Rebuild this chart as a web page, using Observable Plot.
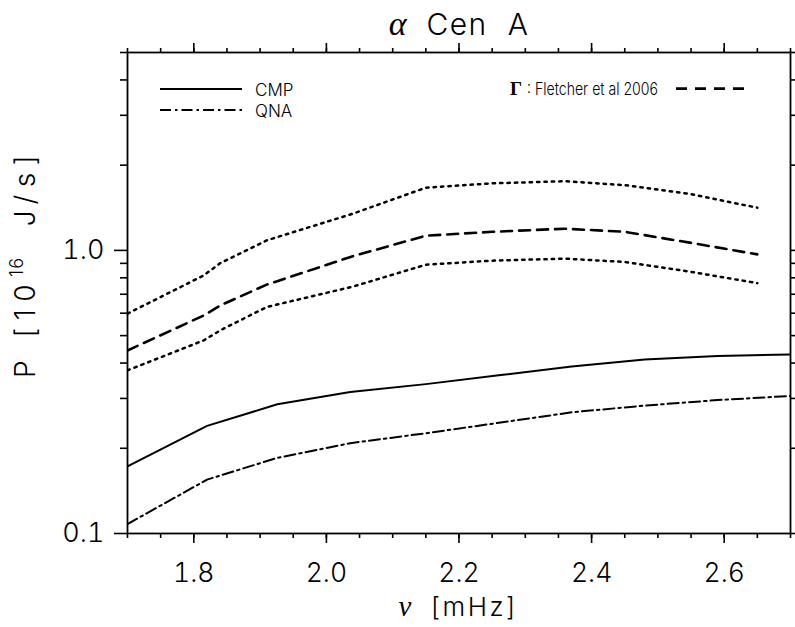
<!DOCTYPE html>
<html><head><meta charset="utf-8">
<script src="https://cdn.jsdelivr.net/npm/d3@7"></script>
<script src="https://cdn.jsdelivr.net/npm/@observablehq/plot@0.6"></script>
<style>
body{margin:0;background:#fff}
#chart{width:795px;height:627px}
#chart svg text{font-family:Inter,Roboto,"DejaVu Sans",sans-serif;font-weight:300;fill:#000}
</style>
</head><body><div id="chart"></div>
<script>
// model frequencies (mHz) and powers (10^16 J/s)
const nuModel = [1.70, 1.82, 1.926, 2.036, 2.15, 2.26, 2.37, 2.48, 2.59, 2.70];
const cmp = [0.1725, 0.240, 0.286, 0.316, 0.337, 0.362, 0.389, 0.412, 0.424, 0.429];
const qna = [0.108, 0.155, 0.185, 0.2085, 0.226, 0.246, 0.268, 0.283, 0.296, 0.306];
// Fletcher et al 2006
const nuObs = [1.70, 1.815, 1.84, 1.91, 2.04, 2.15, 2.25, 2.36, 2.45, 2.55, 2.65];
const gamma = [0.443, 0.589, 0.639, 0.757, 0.954, 1.127, 1.163, 1.193, 1.163, 1.063, 0.968];
const gammaHi = [0.598, 0.816, 0.902, 1.085, 1.348, 1.665, 1.725, 1.755, 1.70, 1.58, 1.415];
const gammaLo = [0.377, 0.481, 0.522, 0.631, 0.745, 0.89, 0.92, 0.935, 0.91, 0.84, 0.766];
// ticks
const xMajor = [1.8, 2.0, 2.2, 2.4, 2.6];
const xMinor = [1.70,1.75,1.80,1.85,1.90,1.95,2.00,2.05,2.10,2.15,2.20,2.25,2.30,2.35,2.40,2.45,2.50,2.55,2.60,2.65,2.70];
const yMajor = [0.1, 1.0];
const yMajorLabels = ["0.1", "1.0"];
const yMinor = [0.2,0.3,0.4,0.5,0.6,0.7,0.8,0.9,2,3,4,5];

const rows = (xs, ys) => xs.map((x, i) => ({x, y: ys[i]}));
const none = () => "";
const ts = 1.6;

const svg = Plot.plot({
  width: 795, height: 627,
  marginLeft: 127, marginRight: 5, marginTop: 52, marginBottom: 94,
  style: {background: "#fff"},
  x: {domain: [1.7, 2.7], label: null},
  y: {type: "log", domain: [0.1, 5], label: null},
  marks: [
    Plot.line(rows(nuModel, cmp), {x: "x", y: "y", stroke: "#000", strokeWidth: 2, clip: true}),
    Plot.line(rows(nuModel, qna), {x: "x", y: "y", stroke: "#000", strokeWidth: 2, strokeDasharray: "11,4,2.5,4", clip: true}),
    Plot.line(rows(nuObs, gamma), {x: "x", y: "y", stroke: "#000", strokeWidth: 2.6, strokeDasharray: "11,7", clip: true}),
    Plot.line(rows(nuObs, gammaHi), {x: "x", y: "y", stroke: "#000", strokeWidth: 2.5, strokeDasharray: "2.4,5", clip: true}),
    Plot.line(rows(nuObs, gammaLo), {x: "x", y: "y", stroke: "#000", strokeWidth: 2.5, strokeDasharray: "2.4,5", clip: true}),
    // bottom axis
    Plot.axisX({anchor: "bottom", ticks: xMinor, tickSize: 5, tickFormat: none, strokeWidth: ts}),
    Plot.axisX({anchor: "bottom", ticks: xMajor, tickSize: 10, tickPadding: 20, fontSize: 26.5, tickFormat: d => d.toFixed(1), strokeWidth: ts}),
    // top axis
    Plot.axisX({anchor: "top", ticks: xMinor, tickSize: 5, tickFormat: none, strokeWidth: ts}),
    Plot.axisX({anchor: "top", ticks: xMajor, tickSize: 10, tickFormat: none, strokeWidth: ts}),
    // left axis
    Plot.axisY({anchor: "left", ticks: yMinor, tickSize: 7, tickFormat: none, strokeWidth: ts}),
    Plot.axisY({anchor: "left", ticks: yMajor, tickSize: 13, tickPadding: 10, fontSize: 27,
      tickFormat: d => yMajorLabels[yMajor.indexOf(d)], strokeWidth: ts}),
    // right axis
    Plot.axisY({anchor: "right", ticks: yMinor.concat(yMajor), tickSize: 6, tickFormat: none, strokeWidth: ts}),
    Plot.frame({stroke: "#000", strokeWidth: 1.8})
  ]
});
document.getElementById("chart").appendChild(svg);

const s = d3.select(svg);
// title
const t = s.append("text").attr("x", 459).attr("y", 35).attr("text-anchor", "middle")
  .style("font-size", "30px").attr("xml:space", "preserve");
t.append("tspan").text("α").style("font-family", "'Liberation Serif', serif").style("font-style", "italic").style("font-weight", "400").style("font-size", "34px");
t.append("tspan").text("  Cen  A").style("letter-spacing", "1.5px");

// x label
const xl = s.append("text").attr("x", 458).attr("y", 616).attr("text-anchor", "middle")
  .style("font-size", "26px").attr("xml:space", "preserve");
xl.append("tspan").text("ν").style("font-family", "'Liberation Serif', serif").style("font-style", "italic").style("font-weight", "400").style("font-size", "29px");
xl.append("tspan").text("  [mHz]").style("letter-spacing", "2.5px");

// y label
const yl = s.append("text").attr("transform", "translate(35,263) rotate(-90)").attr("text-anchor", "middle")
  .style("font-size", "28px").attr("xml:space", "preserve").style("letter-spacing", "7.5px");
yl.append("tspan").text("P [10");
yl.append("tspan").text("16").attr("dy", "-12").style("font-size", "18px").style("letter-spacing", "1px");
yl.append("tspan").text("  J/s]").attr("dy", "12");

// legend
const lg = s.append("g").attr("text-anchor", "start");
lg.append("line").attr("x1", 160).attr("x2", 242).attr("y1", 89).attr("y2", 89)
  .attr("stroke", "#000").attr("stroke-width", 2);
lg.append("line").attr("x1", 160).attr("x2", 242).attr("y1", 110).attr("y2", 110)
  .attr("stroke", "#000").attr("stroke-width", 2).attr("stroke-dasharray", "11,4,2.5,4");
lg.append("text").attr("x", 255).attr("y", 95.5).style("font-size", "17px").text("CMP");
lg.append("text").attr("x", 255).attr("y", 116.5).style("font-size", "17px").text("QNA");
lg.append("text").attr("x", 510).attr("y", 95).text("Γ")
  .style("font-family", "'Liberation Serif', serif").style("font-weight", "700").style("font-size", "19px");
lg.append("text").attr("x", 527).attr("y", 95).style("font-size", "17px").text(": Fletcher et al 2006")
  .attr("textLength", 131).attr("lengthAdjust", "spacingAndGlyphs");
lg.append("line").attr("x1", 676).attr("x2", 746).attr("y1", 88.7).attr("y2", 88.7)
  .attr("stroke", "#000").attr("stroke-width", 2.8).attr("stroke-dasharray", "11,8");
</script>
</body></html>
